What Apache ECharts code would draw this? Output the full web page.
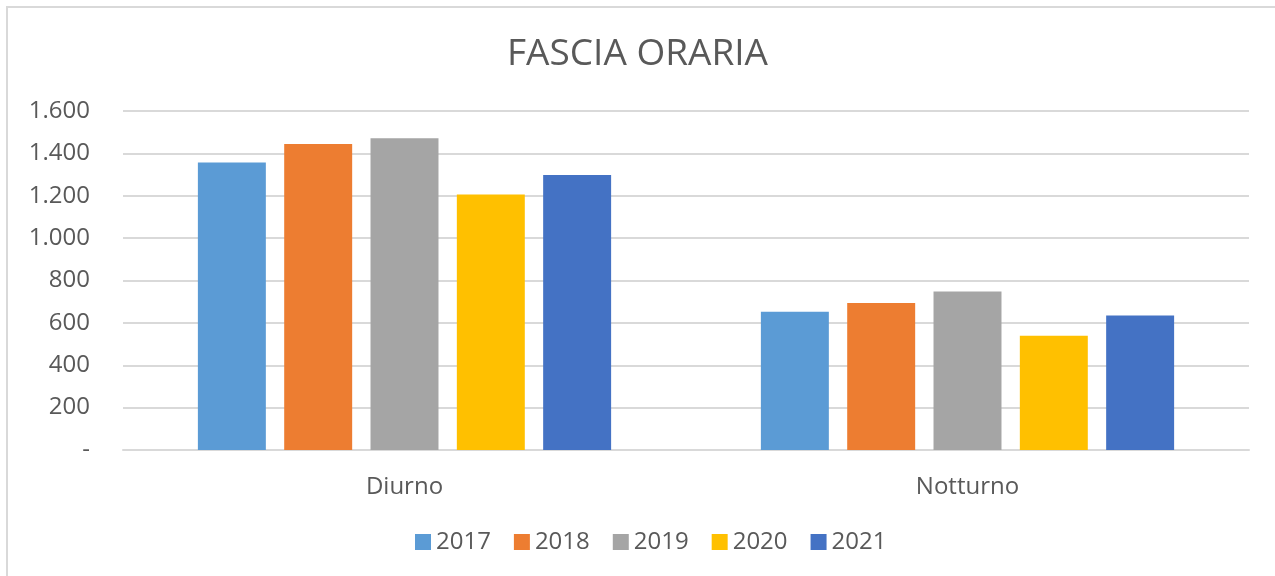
<!DOCTYPE html>
<html>
	<head>
		<meta charset="utf-8">
		<title>FASCIA ORARIA</title>
		<style>
			html, body { margin: 0; padding: 0; overflow: hidden; background: #fff; }
			/* cornice grigia del grafico (esce a destra e in basso) */
			#frame { position: absolute; left: 6px; top: 6px; width: 1300px; height: 600px; border: 2px solid #D9D9D9; box-sizing: border-box; }
		</style>
	</head>
	<body>
		<div id="frame"></div>
		<div id="container" style="position:absolute;left:0;top:0;width:1275px;height:576px;"></div>
	</body>
	<script src="https://cdn.jsdelivr.net/npm/echarts@6/dist/echarts.min.js"></script>
	<script type="text/javascript">
		'use strict'
		// dati
		var categories = ['Diurno', 'Notturno'];
		var years = ['2017', '2018', '2019', '2020', '2021'];
		var v2017 = [1357, 652];
		var v2018 = [1444, 694];
		var v2019 = [1471, 748];
		var v2020 = [1206, 539];
		var v2021 = [1298, 635];
		var colors = ['#5B9BD5', '#ED7D31', '#A5A5A5', '#FFC000', '#4472C4'];

		var values = [v2017, v2018, v2019, v2020, v2021];
		var font = '"Open Sans", sans-serif';

		var myCharts = echarts.init(document.getElementById('container'));

		// formato italiano: 1.600, zero come "-"
		function fmt(v) {
			if (v === 0) return '-';
			return String(v).replace(/\B(?=(\d{3})+(?!\d))/g, '.');
		}

		var series = years.map(function (y, i) {
			return {
				name: y,
				type: 'bar',
				data: values[i],
				itemStyle: { color: colors[i] },
				barGap: '27%',
				barCategoryGap: '26.6%'
			};
		});

		var option = {
			animation: false,
			title: {
				text: 'FASCIA ORARIA',
				left: 'center',
				top: 31,
				textStyle: { color: '#595959', fontSize: 37, fontWeight: 'normal', fontFamily: font }
			},
			legend: {
				bottom: 17,
				left: 410,
				itemWidth: 16,
				itemHeight: 16,
				itemGap: 23,
				icon: 'rect',
				textStyle: { color: '#595959', fontSize: 24, fontFamily: font }
			},
			grid: {
				left: 123,
				right: 26,
				top: 111,
				bottom: 126
			},
			xAxis: {
				type: 'category',
				data: categories,
				axisTick: { show: false },
				axisLine: { lineStyle: { color: '#D9D9D9', width: 2 } },
				axisLabel: { color: '#595959', fontSize: 24, fontFamily: font, margin: 25 }
			},
			yAxis: {
				type: 'value',
				min: 0,
				max: 1600,
				interval: 200,
				axisLine: { show: false },
				axisTick: { show: false },
				splitLine: { lineStyle: { color: '#D9D9D9', width: 2 } },
				axisLabel: { color: '#595959', fontSize: 24, fontFamily: font, margin: 33, formatter: fmt }
			},
			series: series
		};
		myCharts.setOption(option);
	</script>
</html>
